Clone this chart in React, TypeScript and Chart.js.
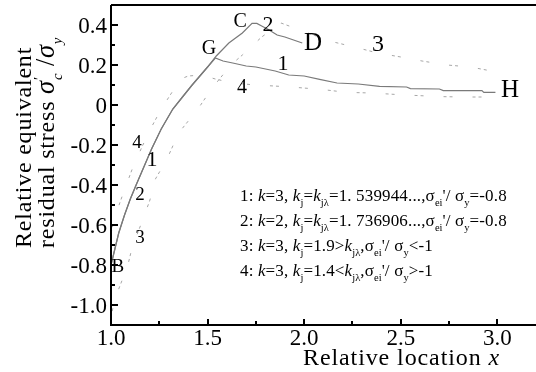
import React, { useEffect, useRef } from 'react';
import { Chart, registerables } from 'chart.js';
Chart.register(...registerables);

// ---- data ----
const curve1X = [1.0, 1.02, 1.04, 1.07, 1.10, 1.13, 1.17, 1.21, 1.26, 1.32, 1.37, 1.42, 1.46, 1.50, 1.54, 1.58, 1.63, 1.70, 1.75, 1.85, 1.92, 2.0, 2.08, 2.17, 2.28, 2.39, 2.53, 2.55, 2.70, 2.72, 2.92, 2.93, 2.99];
const curve1Y = [-0.80, -0.72, -0.64, -0.55, -0.47, -0.40, -0.31, -0.22, -0.12, -0.02, 0.04, 0.10, 0.145, 0.19, 0.235, 0.22, 0.21, 0.195, 0.19, 0.17, 0.15, 0.145, 0.128, 0.11, 0.105, 0.093, 0.09, 0.082, 0.08, 0.072, 0.072, 0.063, 0.063];

const curve2X = [1.0, 1.02, 1.04, 1.07, 1.10, 1.13, 1.17, 1.21, 1.26, 1.32, 1.37, 1.42, 1.46, 1.50, 1.545, 1.61, 1.68, 1.73, 1.755, 1.78, 1.81, 1.86, 1.90, 1.93, 1.99];
const curve2Y = [-0.80, -0.72, -0.64, -0.55, -0.47, -0.40, -0.31, -0.22, -0.12, -0.02, 0.04, 0.10, 0.145, 0.19, 0.245, 0.31, 0.36, 0.408, 0.408, 0.395, 0.38, 0.35, 0.34, 0.33, 0.31];

const curve3X = [1.0, 1.02, 1.06, 1.09, 1.11, 1.15, 1.20, 1.23, 1.29, 1.35, 1.45, 1.52, 1.57, 1.62, 1.68, 1.78, 1.88, 2.02, 2.13, 2.26, 2.38, 2.50, 2.61, 2.74, 2.86, 2.97];
const curve3Y = [-1.06, -0.97, -0.87, -0.79, -0.71, -0.61, -0.48, -0.37, -0.27, -0.14, -0.02, 0.08, 0.14, 0.20, 0.25, 0.34, 0.41, 0.36, 0.32, 0.29, 0.26, 0.24, 0.22, 0.20, 0.19, 0.17];

const curve4X = [1.0, 1.02, 1.06, 1.11, 1.16, 1.21, 1.26, 1.30, 1.36, 1.40, 1.47, 1.54, 1.63, 1.75, 1.88, 1.97, 2.09, 2.22, 2.35, 2.47, 2.57, 2.70, 2.82, 2.95];
const curve4Y = [-0.64, -0.56, -0.45, -0.32, -0.21, -0.11, -0.02, 0.04, 0.13, 0.145, 0.15, 0.13, 0.11, 0.10, 0.093, 0.087, 0.078, 0.063, 0.06, 0.053, 0.048, 0.042, 0.04, 0.04];

const xMajorTicks = [1.0, 1.5, 2.0, 2.5, 3.0];
const xTickLabels = ['1.0', '1.5', '2.0', '2.5', '3.0'];
const xMinorTicks = [1.25, 1.75, 2.25, 2.75];
const yMajorTicks = [-1.0, -0.8, -0.6, -0.4, -0.2, 0, 0.2, 0.4];
const yTickLabels = ['-1.0', '-0.8', '-0.6', '-0.4', '-0.2', '0', '0.2', '0.4'];
const yMinorTicks = [-0.9, -0.7, -0.5, -0.3, -0.1, 0.1, 0.3];

// annotation labels: text, data x, data y, font size
const pointLabels: [string, number, number, number][] = [
  ['C', 1.668, 0.415, 20],
  ['2', 1.813, 0.40, 22],
  ['G', 1.507, 0.28, 20],
  ['D', 2.046, 0.31, 25],
  ['1', 1.89, 0.205, 22],
  ['3', 2.382, 0.30, 24],
  ['4', 1.678, 0.085, 20],
  ['H', 3.065, 0.075, 25],
  ['4', 1.135, -0.19, 19],
  ['1', 1.212, -0.275, 22],
  ['2', 1.15, -0.45, 19],
  ['3', 1.15, -0.665, 19],
  ['B', 1.036, -0.81, 19],
];

type Seg = { t: string; it?: boolean; sub?: boolean; sup?: boolean; noAdv?: boolean; scale?: number };

const legendLines: Seg[][] = [
  [{ t: '1: ' }, { t: 'k', it: true }, { t: '=3, ' }, { t: 'k', it: true }, { t: 'j', sub: true }, { t: '=' }, { t: 'k', it: true }, { t: 'jλ', sub: true }, { t: '=1. 539944...,' }, { t: 'σ' }, { t: 'ei', sub: true }, { t: '\'/ ' }, { t: 'σ' }, { t: 'y', sub: true }, { t: '=-0.8' }],
  [{ t: '2: ' }, { t: 'k', it: true }, { t: '=2, ' }, { t: 'k', it: true }, { t: 'j', sub: true }, { t: '=' }, { t: 'k', it: true }, { t: 'jλ', sub: true }, { t: '=1. 736906...,' }, { t: 'σ' }, { t: 'ei', sub: true }, { t: '\'/ ' }, { t: 'σ' }, { t: 'y', sub: true }, { t: '=-0.8' }],
  [{ t: '3: ' }, { t: 'k', it: true }, { t: '=3, ' }, { t: 'k', it: true }, { t: 'j', sub: true }, { t: '=1.9>' }, { t: 'k', it: true }, { t: 'jλ', sub: true }, { t: ',σ' }, { t: 'ei', sub: true }, { t: '\'/ ' }, { t: 'σ' }, { t: 'y', sub: true }, { t: '<-1' }],
  [{ t: '4: ' }, { t: 'k', it: true }, { t: '=3, ' }, { t: 'k', it: true }, { t: 'j', sub: true }, { t: '=1.4<' }, { t: 'k', it: true }, { t: 'jλ', sub: true }, { t: ',σ' }, { t: 'ei', sub: true }, { t: '\'/ ' }, { t: 'σ' }, { t: 'y', sub: true }, { t: '>-1' }],
];

const yTitle1: Seg[] = [{ t: 'Relative equivalent' }];
const yTitle2: Seg[] = [{ t: 'residual stress ' }, { t: 'σ', it: true, scale: 1.1 }, { t: '′', sup: true, noAdv: true }, { t: 'c', it: true, sub: true }, { t: ' /', scale: 1.1 }, { t: 'σ', it: true, scale: 1.1 }, { t: 'y', it: true, sub: true }];
const xTitle: Seg[] = [{ t: 'Relative location ' }, { t: 'x', it: true }];

const FAMILY = "'Liberation Serif', 'Times New Roman', serif";

function drawRich(ctx: CanvasRenderingContext2D, segs: Seg[], x: number, y: number, size: number, spacing = 0) {
  let cx = x;
  for (const s of segs) {
    const base = size * (s.scale || 1);
    const fs = s.sub || s.sup ? size * 0.62 : base;
    ctx.font = `${s.it ? 'italic ' : ''}${fs}px ${FAMILY}`;
    (ctx as any).letterSpacing = s.sub || s.sup ? '0px' : `${spacing}px`;
    const dy = s.sub ? size * 0.32 : s.sup ? -size * 0.42 : 0;
    ctx.fillText(s.t, cx, y + dy);
    if (!s.noAdv) cx += ctx.measureText(s.t).width;
  }
  (ctx as any).letterSpacing = '0px';
}

const decorPlugin = {
  id: 'decor',
  afterDraw(chart: any) {
    const ctx: CanvasRenderingContext2D = chart.ctx;
    const xs = chart.scales.x;
    const ys = chart.scales.y;
    const { left, right, top, bottom } = chart.chartArea;
    ctx.save();
    ctx.strokeStyle = '#000';
    ctx.fillStyle = '#000';
    // frame
    ctx.lineWidth = 2;
    ctx.beginPath();
    ctx.moveTo(left, top); ctx.lineTo(right, top);
    ctx.moveTo(left, top); ctx.lineTo(left, bottom);
    ctx.moveTo(left - 1, bottom); ctx.lineTo(right, bottom);
    ctx.stroke();
    // ticks
    ctx.lineWidth = 2;
    ctx.beginPath();
    for (const v of yMajorTicks) { const p = Math.round(ys.getPixelForValue(v)); ctx.moveTo(left, p); ctx.lineTo(left + 7, p); }
    for (const v of yMinorTicks) { const p = Math.round(ys.getPixelForValue(v)); ctx.moveTo(left, p); ctx.lineTo(left + 4, p); }
    for (const v of xMajorTicks) { const p = Math.round(xs.getPixelForValue(v)); ctx.moveTo(p, bottom); ctx.lineTo(p, bottom - 6); }
    for (const v of xMinorTicks) { const p = Math.round(xs.getPixelForValue(v)); ctx.moveTo(p, bottom); ctx.lineTo(p, bottom - 4); }
    ctx.stroke();
    // tick labels
    ctx.font = `23px ${FAMILY}`;
    ctx.textBaseline = 'alphabetic';
    ctx.textAlign = 'right';
    yMajorTicks.forEach((v, i) => { ctx.fillText(yTickLabels[i], left - 4, ys.getPixelForValue(v) + 8); });
    ctx.textAlign = 'center';
    xMajorTicks.forEach((v, i) => { ctx.fillText(xTickLabels[i], xs.getPixelForValue(v), bottom + 20); });
    // titles
    ctx.textAlign = 'left';
    drawRich(ctx, xTitle, 303, 365, 24, 0.9);
    ctx.save();
    ctx.translate(31, 248);
    ctx.rotate(-Math.PI / 2);
    drawRich(ctx, yTitle1, 0, 0, 24, 0.8);
    ctx.restore();
    ctx.save();
    ctx.translate(54, 248);
    ctx.rotate(-Math.PI / 2);
    drawRich(ctx, yTitle2, 0, 0, 24, 0.8);
    ctx.restore();
    // point labels
    ctx.textAlign = 'center';
    ctx.textBaseline = 'middle';
    for (const [t, x, y, s] of pointLabels) {
      ctx.font = `${s}px ${FAMILY}`;
      ctx.fillText(t, xs.getPixelForValue(x), ys.getPixelForValue(y));
    }
    // legend text
    ctx.textAlign = 'left';
    ctx.textBaseline = 'alphabetic';
    legendLines.forEach((segs, i) => drawRich(ctx, segs, 240, 201 + i * 25, 17, 0.15));
    ctx.restore();
  },
};

function pts(xs: number[], ys: number[]) {
  return xs.map((x, i) => ({ x, y: ys[i] }));
}

export default function App() {
  const ref = useRef<HTMLCanvasElement>(null);
  useEffect(() => {
    if (!ref.current) return;
    const solid = { borderColor: '#7a7a7a', borderWidth: 1.2, pointRadius: 0, tension: 0, fill: false };
    const dotted = { borderColor: '#a6a6a6', borderWidth: 1, pointRadius: 0, tension: 0, fill: false, borderDash: [3, 3, 3, 20] };
    const chart = new Chart(ref.current, {
      type: 'line',
      data: {
        datasets: [
          { label: '1', data: pts(curve1X, curve1Y), ...solid },
          { label: '2', data: pts(curve2X, curve2Y), ...solid },
          { label: '3', data: pts(curve3X, curve3Y), ...dotted },
          { label: '4', data: pts(curve4X, curve4Y), ...dotted },
        ] as any,
      },
      options: {
        animation: false,
        responsive: false,
        maintainAspectRatio: false,
        layout: { padding: { top: 5, right: 0, left: 0, bottom: 0 } },
        plugins: { legend: { display: false }, tooltip: { enabled: false } },
        scales: {
          x: {
            type: 'linear', min: 1.0, max: 3.2,
            grid: { display: false }, border: { display: false }, ticks: { display: false },
            afterFit: (s: any) => { s.height = 47; },
          },
          y: {
            type: 'linear', min: -1.1, max: 0.5,
            grid: { display: false }, border: { display: false }, ticks: { display: false },
            afterFit: (s: any) => { s.width = 111; },
          },
        },
      } as any,
      plugins: [decorPlugin],
    });
    return () => chart.destroy();
  }, []);
  return (
    <div style={{ position: 'absolute', left: 0, top: 0, width: 536, height: 372, background: '#fff' }}>
      <canvas ref={ref} width={536} height={372} style={{ display: 'block' }} />
    </div>
  );
}
